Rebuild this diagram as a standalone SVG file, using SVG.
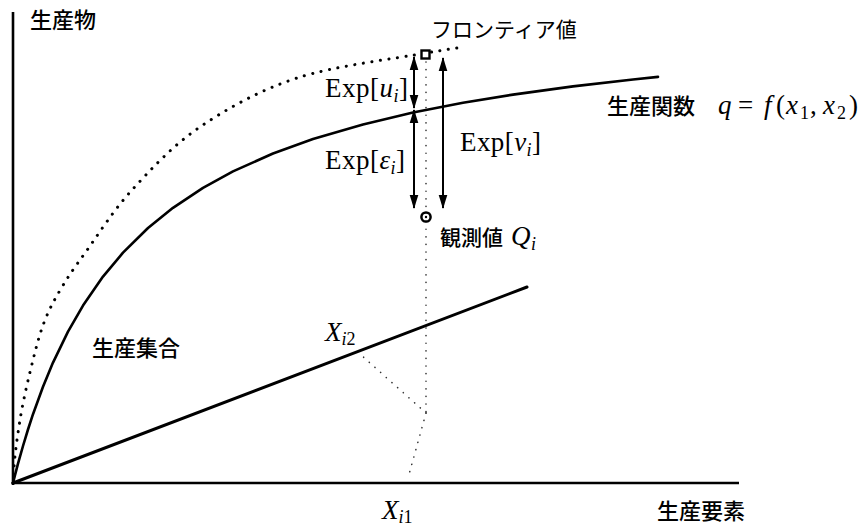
<svg xmlns="http://www.w3.org/2000/svg" width="866" height="530" viewBox="0 0 866 530">
<defs>
<marker id="ah" markerUnits="userSpaceOnUse" markerWidth="14" markerHeight="10" viewBox="0 0 14 10" refX="13" refY="5" orient="auto-start-reverse">
<path d="M0,0.7 L14,5 L0,9.3 z" fill="#000"/>
</marker>
<style>
.ax{stroke:#000;stroke-width:2.6;fill:none}
.cv{stroke:#000;stroke-width:2.6;fill:none;stroke-linecap:round;stroke-linejoin:round}
.fr{stroke:#000;stroke-width:3;fill:none;stroke-dasharray:0.1 8.5;stroke-linecap:round}
.fd{stroke:#333;stroke-width:1.6;fill:none;stroke-dasharray:0.1 7.5;stroke-linecap:round}
.ar{stroke:#000;stroke-width:2;fill:none;marker-start:url(#ah);marker-end:url(#ah)}
.jp{font-family:"Noto Sans CJK JP","Noto Sans",sans-serif;font-size:22px;font-weight:500;fill:#000}
.m{font-family:"Liberation Serif",serif;font-size:27px;fill:#000}
.i{font-style:italic}
.s{font-size:18px}
</style>
</defs>
<rect width="866" height="530" fill="#fff"/>
<g id="axes">
<line class="ax" x1="13" y1="12" x2="13" y2="485"/>
<line class="ax" x1="12" y1="483" x2="739" y2="483"/>
</g>
<g id="curves">
<path id="production-function" class="cv" d="M13,483 L15,475.1 L18,463.7 L23,446 L28,429.5 L33,414.2 L43,386.7 L53,362.6 L68,331.6 L83,305.6 L103,276.6 L123,252.7 L148,228 L173,207.8 L203,187.8 L233,171.4 L273,153.5 L313,139 L363,124.4 L413,112.5 L463,102.8 L513,94.6 L573,86.4 L633,79.5 L658,76.9"/>
<path id="frontier" class="fr" d="M13,483 C14,460 16.7,440.5 20,420 C23.3,399.5 28.8,376.7 33,360 C37.2,343.3 40.2,332.2 45,320 C49.8,307.8 55.3,298.2 62,287 C68.7,275.8 73.3,269.2 85,253 C96.7,236.8 112.8,211 132,190 C151.2,169 172.5,145.7 200,127 C227.5,108.3 259.3,90.3 297,78 C334.7,65.7 398,58.2 426,53 C444,50 455,48 465,47"/>
<line id="input-ray" class="cv" x1="13" y1="483" x2="527" y2="287" style="stroke-width:3"/>
</g>
<g id="connectors">
<line class="fd" x1="426" y1="62" x2="426" y2="413"/>
<line class="fd" x1="426" y1="413" x2="408" y2="478"/>
<line class="fd" x1="426" y1="413" x2="360" y2="354"/>
<line id="arrow-u" class="ar" x1="414" y1="57" x2="414" y2="108"/>
<line id="arrow-eps" class="ar" x1="414" y1="110" x2="414" y2="208"/>
<line id="arrow-v" class="ar" x1="443" y1="58" x2="443" y2="208"/>
</g>
<g id="frontier-point">
<rect x="421.5" y="50.5" width="8" height="8" fill="#fff" stroke="#000" stroke-width="2.4"/>
<text class="jp" x="431" y="37" style="font-size:21px;font-weight:400">フロンティア値</text>
</g>
<g id="observed-point">
<circle cx="426" cy="217" r="4.6" fill="#fff" stroke="#000" stroke-width="2.5"/>
<circle cx="426" cy="217" r="1.2" fill="#000"/>
<text class="jp" x="440" y="245" style="font-size:21px">観測値</text>
<text class="m" y="245"><tspan class="i" x="511">Q</tspan><tspan class="i s" x="531" dy="5">i</tspan></text>
</g>
<g id="labels">
<text class="jp" x="30" y="28">生産物</text>
<text class="jp" x="657" y="519">生産要素</text>
<text class="jp" x="92" y="356">生産集合</text>
<text class="jp" x="607" y="114">生産関数</text>
<text class="m" y="114"><tspan class="i" x="718">q</tspan><tspan x="738">=</tspan><tspan class="i" x="764">f</tspan><tspan x="776">(</tspan><tspan class="i" x="786">x</tspan><tspan class="s" x="800" dy="5">1</tspan><tspan x="810" dy="-5">,</tspan><tspan class="i" x="823">x</tspan><tspan class="s" x="837" dy="5">2</tspan><tspan x="849" dy="-5">)</tspan></text>
<text class="m" x="325" y="97" textLength="83" lengthAdjust="spacing">Exp[<tspan class="i">u</tspan><tspan class="i s" dy="5">i</tspan><tspan dy="-5">]</tspan></text>
<text class="m" x="325" y="169" textLength="80" lengthAdjust="spacing">Exp[<tspan class="i">ε</tspan><tspan class="i s" dy="5">i</tspan><tspan dy="-5">]</tspan></text>
<text class="m" x="460" y="151" textLength="81" lengthAdjust="spacing">Exp[<tspan class="i">v</tspan><tspan class="i s" dy="5">i</tspan><tspan dy="-5">]</tspan></text>
<text class="m" x="325" y="341"><tspan class="i">X</tspan><tspan class="i s" dy="4">i</tspan><tspan class="s">2</tspan></text>
<text class="m" x="382" y="519"><tspan class="i">X</tspan><tspan class="i s" dy="4">i</tspan><tspan class="s">1</tspan></text>
</g>
</svg>
